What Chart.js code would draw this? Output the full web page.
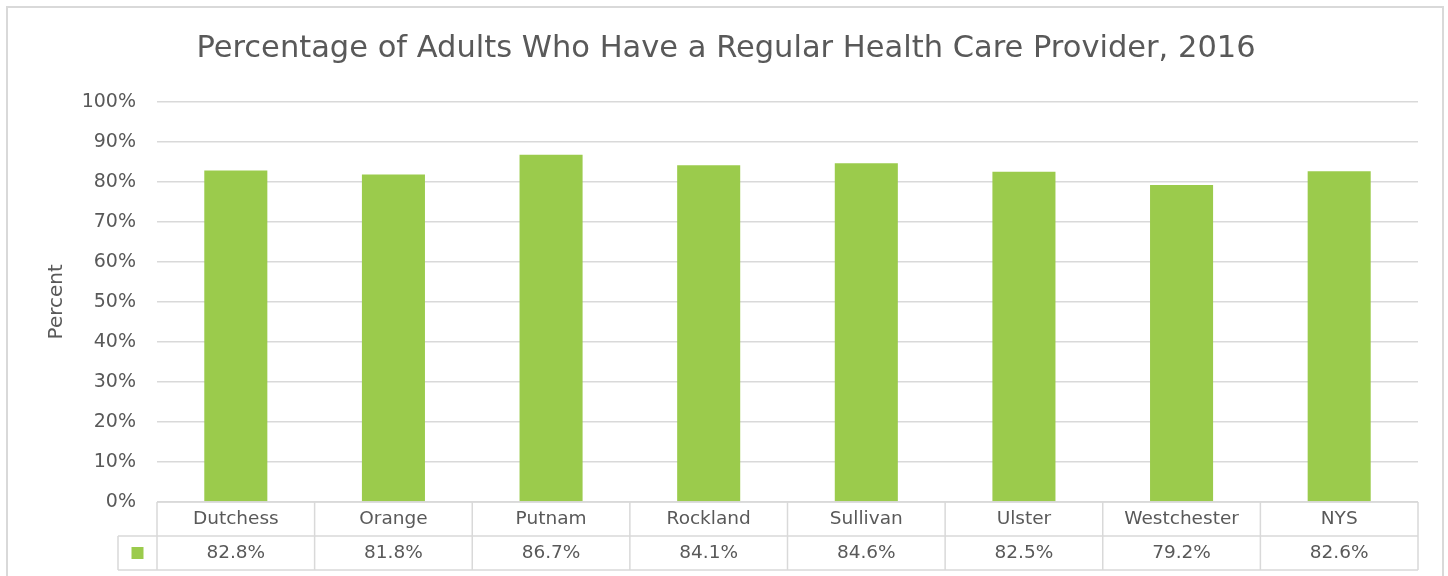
<!DOCTYPE html>
<html>
<head>
<meta charset="utf-8">
<script src="https://cdn.jsdelivr.net/npm/chart.js@4/dist/chart.umd.min.js"></script>
<style>
  html, body { margin: 0; padding: 0; background: #ffffff; }
  #wrap { width: 1448px; height: 576px; position: relative; }
</style>
</head>
<body>
<div id="wrap"><canvas id="c" width="1448" height="576"></canvas></div>
<script>
const categories = ["Dutchess", "Orange", "Putnam", "Rockland", "Sullivan", "Ulster", "Westchester", "NYS"];
const values = [82.8, 81.8, 86.7, 84.1, 84.6, 82.5, 79.2, 82.6];
const chartTitle = "Percentage of Adults Who Have a Regular Health Care Provider, 2016";
const yAxisTitle = "Percent";

const FONT = "'DejaVu Sans', sans-serif";
const TEXT = "#595959";
const GRID = "#D9D9D9";
const BAR = "#9BCB4C";

const tablePlugin = {
  id: "dataTable",
  afterDraw(chart) {
    const ctx = chart.ctx;
    const x = chart.scales.x;
    const area = chart.chartArea;
    const n = categories.length;
    const colW = (area.right - area.left) / n;
    const rowH = 34;
    const top = area.bottom;
    const legendLeft = area.left - 39;
    ctx.save();
    ctx.strokeStyle = GRID;
    ctx.lineWidth = 1.5;
    ctx.beginPath();
    ctx.moveTo(area.left, top); ctx.lineTo(area.right, top);
    ctx.moveTo(legendLeft, top + rowH); ctx.lineTo(area.right, top + rowH);
    ctx.moveTo(legendLeft, top + 2 * rowH); ctx.lineTo(area.right, top + 2 * rowH);
    for (let i = 0; i < n; i++) {
      const b = x.getPixelForValue(i) - colW / 2;
      ctx.moveTo(b, top); ctx.lineTo(b, top + 2 * rowH);
    }
    const rEdge = x.getPixelForValue(n - 1) + colW / 2;
    ctx.moveTo(rEdge, top); ctx.lineTo(rEdge, top + 2 * rowH);
    ctx.moveTo(legendLeft, top + rowH); ctx.lineTo(legendLeft, top + 2 * rowH);
    ctx.stroke();
    ctx.fillStyle = BAR;
    const cx = (legendLeft + area.left) / 2;
    const cy = top + rowH * 1.5;
    ctx.fillRect(cx - 6, cy - 6, 12, 12);
    ctx.strokeStyle = GRID;
    ctx.lineWidth = 2;
    ctx.beginPath();
    ctx.moveTo(7, 600); ctx.lineTo(7, 7); ctx.lineTo(1443, 7); ctx.lineTo(1443, 600);
    ctx.stroke();
    ctx.restore();
  }
};

new Chart(document.getElementById("c"), {
  type: "bar",
  data: {
    labels: categories.map((c, i) => [c, values[i].toFixed(1) + "%"]),
    datasets: [{
      data: values,
      backgroundColor: BAR,
      categoryPercentage: 1.0,
      barPercentage: 0.4
    }]
  },
  options: {
    responsive: false,
    animation: false,
    devicePixelRatio: 1,
    layout: { padding: { left: 34, right: 30, top: 0, bottom: 0 } },
    plugins: {
      legend: { display: false },
      tooltip: { enabled: false },
      title: {
        display: true,
        text: chartTitle,
        color: TEXT,
        font: { family: FONT, size: 30.5, weight: "normal", lineHeight: 1.2 },
        padding: { top: 31, bottom: 34 }
      }
    },
    scales: {
      x: {
        grid: { display: false, drawTicks: false },
        border: { display: false },
        ticks: {
          color: TEXT,
          padding: 0,
          maxRotation: 0,
          autoSkip: false,
          font: { family: FONT, size: 18.5, lineHeight: 34 / 18.5 }
        },
        afterFit(s) { s.height = 74; }
      },
      y: {
        min: 0, max: 100,
        grid: { color: GRID, lineWidth: 1.5, drawTicks: false },
        border: { display: false },
        ticks: {
          stepSize: 10,
          color: TEXT,
          padding: 21,
          font: { family: FONT, size: 19 },
          callback: v => v + "%"
        },
        title: {
          display: true,
          text: yAxisTitle,
          color: TEXT,
          font: { family: FONT, size: 20 },
          padding: { top: 11, bottom: 0 }
        },
        afterFit(s) { s.width = 123; }
      }
    }
  },
  plugins: [tablePlugin]
});
</script>
</body>
</html>
